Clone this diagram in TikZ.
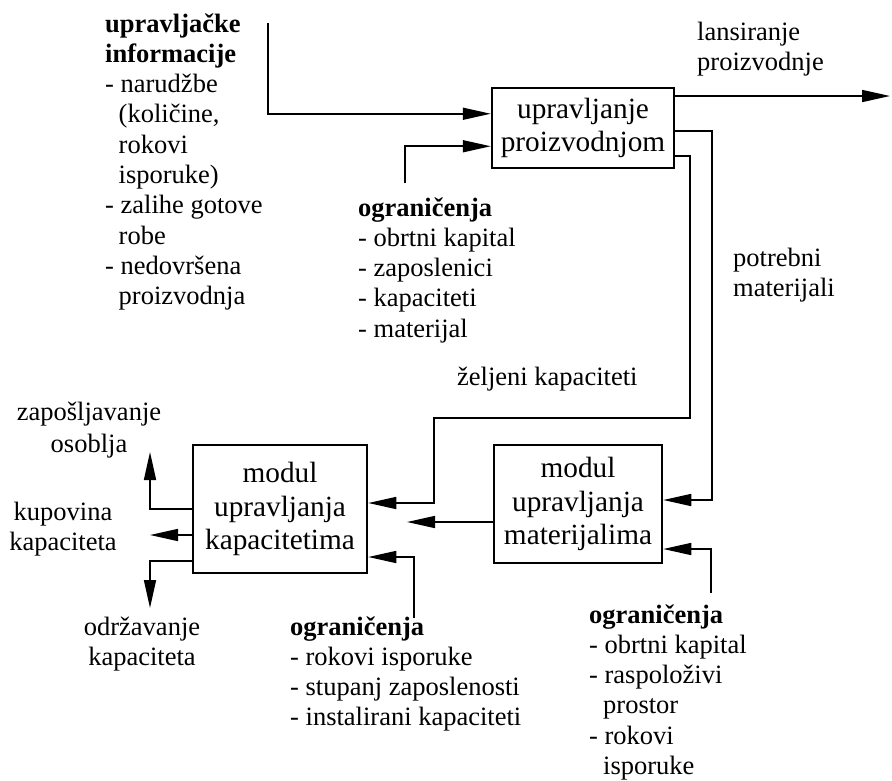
\documentclass[tikz,border=0pt]{standalone}
\usepackage{fontspec}
\setmainfont{Liberation Serif}
\usetikzlibrary{arrows.meta,calc}

\begin{document}
\begin{tikzpicture}[x=1pt,y=-1pt,
  lbl/.style={inner sep=0pt,anchor=base west,font=\fontsize{26.5}{30.3}\selectfont},
  clbl/.style={inner sep=0pt,anchor=base,font=\fontsize{26.5}{30.3}\selectfont},
  blk/.style={draw,line width=2.5pt,inner sep=0pt,align=center,
              font=\fontsize{29.3}{33.5}\selectfont},
  arr/.style={line width=1.6pt,-{Triangle[length=28pt,width=12pt]}},
  ln/.style={line width=1.6pt}]

\useasboundingbox (0,0) rectangle (892,780);

% main blocks
\node[blk,minimum width=182pt,minimum height=80pt]  (top) at (583,128) {upravljanje\\proizvodnjom};
\node[blk,minimum width=174pt,minimum height=128pt] (kap) at (280,509) {modul\\upravljanja\\kapacitetima};
\node[blk,minimum width=168pt,minimum height=118pt] (mat) at (578,504) {modul\\upravljanja\\materijalima};

% text blocks
\node[lbl] (info) at (105,32) {\begin{tabular}[t]{@{}l@{}}
\textbf{upravljačke}\\ \textbf{informacije}\\
- narudžbe\\ \hspace{13.5pt}(količine,\\ \hspace{13.5pt}rokovi\\ \hspace{13.5pt}isporuke)\\
- zalihe gotove\\ \hspace{13.5pt}robe\\
- nedovršena\\ \hspace{13.5pt}proizvodnja\end{tabular}};

\node[lbl] (lans) at (697,40) {\begin{tabular}[t]{@{}l@{}}lansiranje\\proizvodnje\end{tabular}};

\node[lbl] (ogr1) at (358,216) {\begin{tabular}[t]{@{}l@{}}
\textbf{ograničenja}\\ - obrtni kapital\\ - zaposlenici\\ - kapaciteti\\ - materijal\end{tabular}};

\node[lbl] (potr) at (733,266) {\begin{tabular}[t]{@{}l@{}}potrebni\\materijali\end{tabular}};

\node[lbl] (zelj) at (457,385) {željeni kapaciteti};

\node[clbl] (zap) at (89,420) {\begin{tabular}[t]{@{}c@{}}zapošljavanje\\[1.7pt]osoblja\end{tabular}};
\node[clbl] (kup) at (63,520) {\begin{tabular}[t]{@{}c@{}}kupovina\\kapaciteta\end{tabular}};
\node[clbl] (odr) at (142,635) {\begin{tabular}[t]{@{}c@{}}održavanje\\kapaciteta\end{tabular}};

\node[lbl] (ogr2) at (290,635) {\begin{tabular}[t]{@{}l@{}}
\textbf{ograničenja}\\ - rokovi isporuke\\ - stupanj zaposlenosti\\ - instalirani kapaciteti\end{tabular}};

\node[lbl] (ogr3) at (589,623) {\begin{tabular}[t]{@{}l@{}}
\textbf{ograničenja}\\ - obrtni kapital\\ - raspoloživi\\ \hspace{14pt}prostor\\
- rokovi\\ \hspace{14pt}isporuke\end{tabular}};

% free ends and bends of the connectors
\coordinate (ci)  at (268,23);
\coordinate (co1) at (405,183);
\coordinate (out) at (890,96);
\coordinate (pm)  at (712,131);
\coordinate (zk1) at (690,156);
\coordinate (zk2) at (434,418);
\coordinate (mk)  at (407,522);
\coordinate (co2) at (414,618);
\coordinate (co3) at (711,593);
\coordinate (zo)  at (150,452);
\coordinate (ku)  at (150,535);
\coordinate (od)  at (150,608);

% connectors around the production control block
\draw[arr] (ci) |- ($(top.north west)+(0,27)$);
\draw[arr] (co1) |- ($(top.south west)+(0,-23)$);
\draw[arr] (top.east |- out) -- (out);
\draw[arr] (top.east |- pm) -- (pm) |- ($(mat.east)+(0,-4)$);
\draw[arr] (top.east |- zk1) -- (zk1) |- (zk2) |- ($(kap.east)+(0,-6)$);

% connectors between and into the modules
\draw[arr] (mat.west |- mk) -- (mk);
\draw[arr] (co2) |- ($(kap.east)+(0,48)$);
\draw[arr] (co3) |- ($(mat.east)+(0,45)$);

% outputs of the capacity module
\draw[arr] (kap.west) -| (zo);
\draw[arr] (kap.west |- ku) -- (ku);
\draw[arr] ($(kap.west)+(0,52)$) -| (od);
\end{tikzpicture}
\end{document}
